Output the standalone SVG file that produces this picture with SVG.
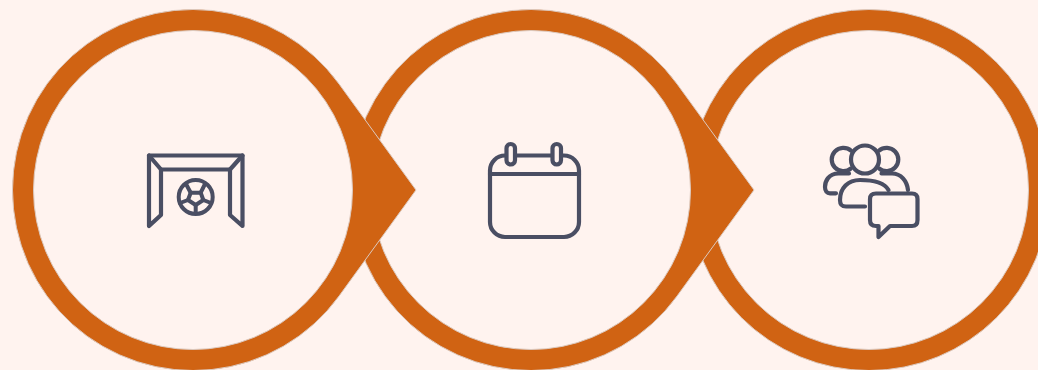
<svg xmlns="http://www.w3.org/2000/svg" width="1038" height="370" viewBox="0 0 1038 370">
<style>
.bg{fill:#FFF3EF}
.drop{fill:#D06313;stroke:#DCC9BE;stroke-width:1}
.hole{fill:#FFF3EF;stroke:#DCC9BE;stroke-width:1}
.ico{fill:none;stroke:#4A4E63;stroke-width:4.200;stroke-linecap:round;stroke-linejoin:round}
.thin{stroke-width:4}
</style>
<rect class="bg" width="1038" height="370"/>
<g id="node-3">
<circle class="drop" cx="869" cy="190" r="180.500"/>
<circle class="hole" cx="869" cy="190" r="159.500"/>
<g class="ico">
<path d="M851 150.600A11.700 11.700 0 1 0 851 168.400"/>
<circle cx="865" cy="159.500" r="14"/>
<path d="M879 150.600A11.700 11.700 0 1 1 879 168.400"/>
<path d="M849 173.500H838.500C828 173.500 825 182 825 187C825 191 827 193.300 830 193.300H836"/>
<path d="M881.500 173.500H892C901 173.500 907 181 908 190"/>
<path d="M888.500 190C884 182 873 180 860 180C848 180 840 188 840 200C840 205 842 206.500 846 206.500H865"/>
<path d="M876 193.500H912C916 193.500 917.500 195.500 917.500 199V220C917.500 224 915.500 226 912 226H890L878.500 237V226H876C872 226 870 224 870 220V199C870 195.500 872 193.500 876 193.500Z"/>
</g>
</g>
<g id="node-2">
<path class="drop" d="M754 190L677.100 296A180.500 180.500 0 1 1 677.100 84Z"/>
<circle class="hole" cx="531" cy="190" r="159.500"/>
<g class="ico">
<rect x="490" y="155.500" width="89" height="81.500" rx="15"/>
<path d="M490 174H579"/>
<rect class="bg" x="506.500" y="144" width="8.500" height="20.500" rx="4.250"/>
<rect class="bg" x="552.500" y="144" width="8.500" height="20.500" rx="4.250"/>
</g>
</g>
<g id="node-1">
<path class="drop" d="M416 190L339.100 296A180.500 180.500 0 1 1 339.100 84Z"/>
<circle class="hole" cx="193" cy="190" r="159.500"/>
<g class="ico">
<path d="M149 155.500H242.500V226L230 215V169.500H161V215L149 226Z"/>
<path d="M149 155.500L161 169.500M242.500 155.500L230 169.500"/>
<g class="thin">
<circle cx="195.700" cy="197" r="17"/>
<path d="M190.700 192.700H200.700L203.300 200L195.700 205L188 200Z"/>
<path d="M190.700 192.700L186 184M200.700 192.700L205 184M203.300 200L211 203M188 200L180 203M195.700 205V213"/>
</g>
</g>
</g>
</svg>
